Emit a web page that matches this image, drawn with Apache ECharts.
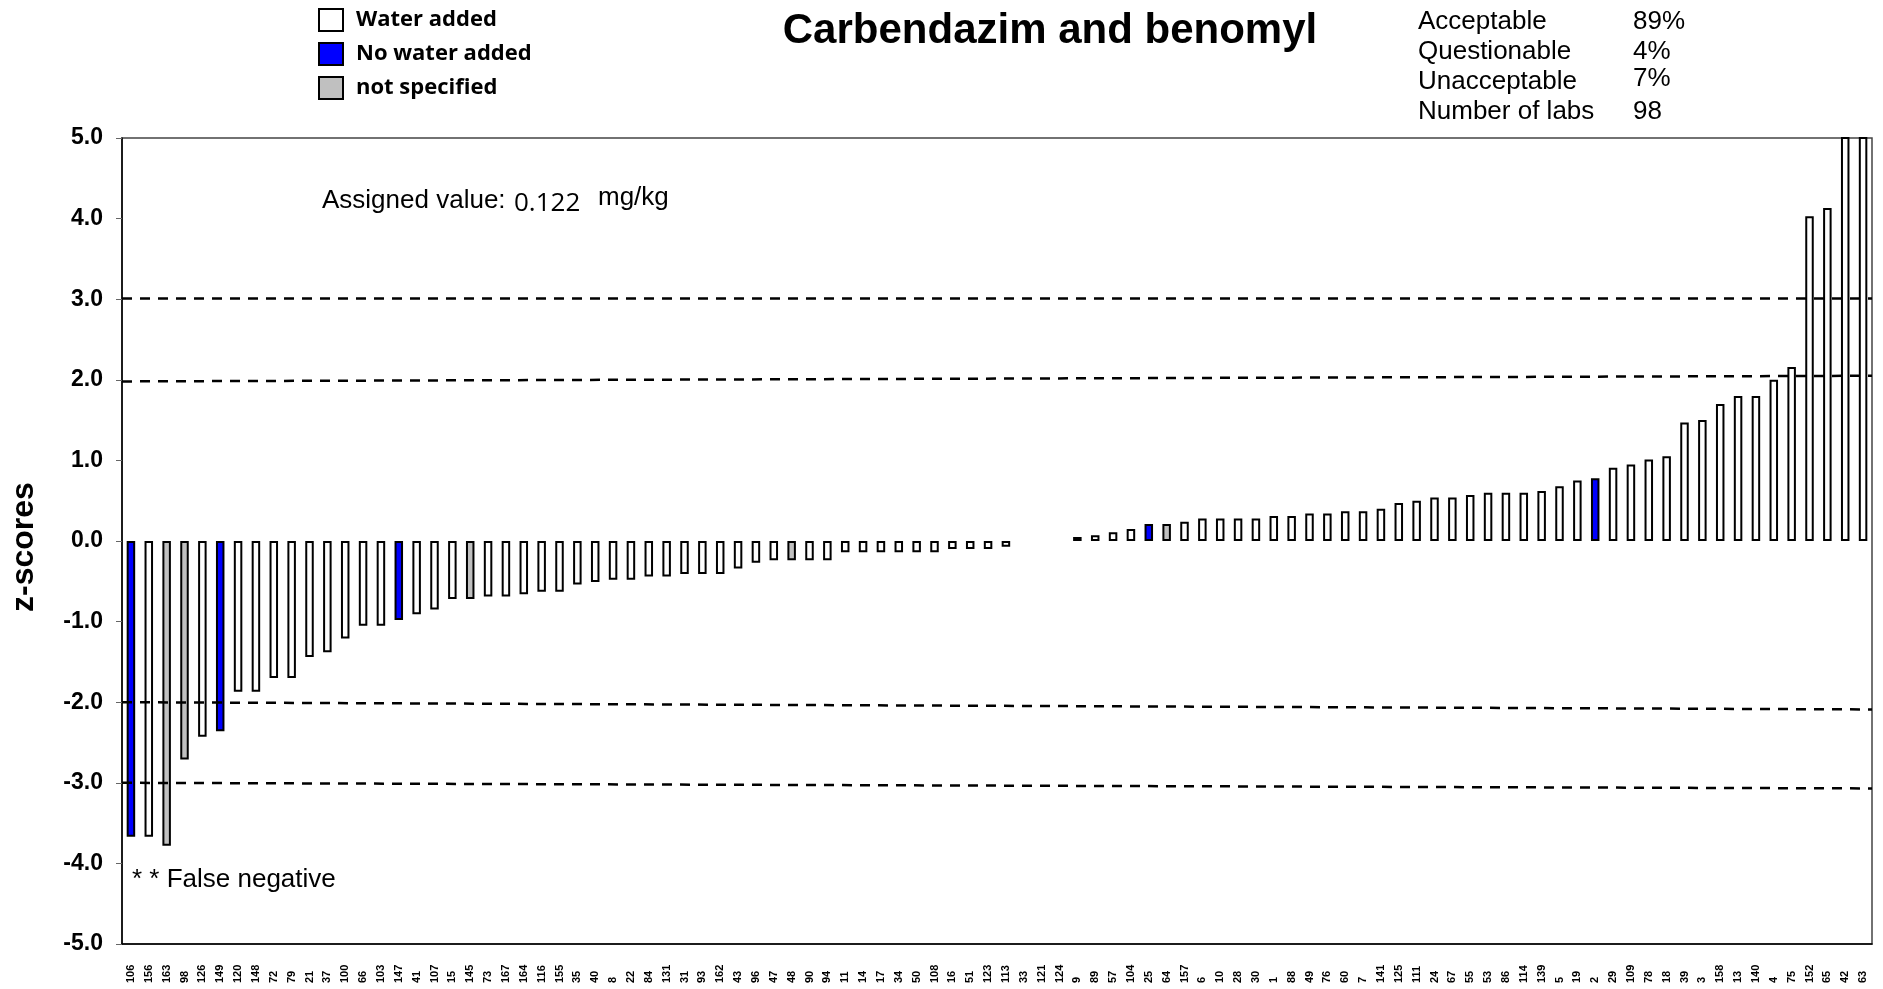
<!DOCTYPE html>
<html>
<head>
<meta charset="utf-8">
<title>Carbendazim and benomyl</title>
<script src="https://cdn.jsdelivr.net/npm/echarts@6/dist/echarts.min.js"></script>
<style>
  html, body { margin: 0; padding: 0; background: #fff; }
  #chart { width: 1883px; height: 989px; }
</style>
</head>
<body>
<div id="chart"></div>
<script>
var myChart = echarts.init(document.getElementById("chart"));//初始化

// lab codes, in plotted order
var labs = ["106","156","163","98","126","149","120","148","72","79","21","37","100","66","103","147","41","107","15","145",
  "73","167","164","116","155","35","40","8","22","84","131","31","93","162","43","96","47","48","90","94",
  "11","14","17","34","50","108","16","51","123","113","33","121","124","9","89","57","104","25","64","157",
  "6","10","28","30","1","88","49","76","60","7","141","125","111","24","67","55","53","86","114","139",
  "5","19","2","29","109","78","18","39","3","158","13","140","4","75","152","65","42","63"];

// z-scores (null = no result reported)
var zScores = [-3.67,-3.67,-3.78,-2.71,-2.43,-2.36,-1.87,-1.87,-1.70,-1.70,-1.44,-1.38,-1.21,-1.05,-1.05,-0.98,-0.91,-0.85,-0.72,-0.72,
  -0.69,-0.69,-0.66,-0.63,-0.63,-0.54,-0.51,-0.48,-0.48,-0.44,-0.44,-0.41,-0.41,-0.41,-0.34,-0.27,-0.24,-0.24,-0.24,-0.24,
  -0.14,-0.14,-0.14,-0.14,-0.14,-0.14,-0.10,-0.10,-0.10,-0.07,null,null,null,0.05,0.07,0.11,0.15,0.21,0.21,0.24,
  0.28,0.28,0.28,0.28,0.31,0.31,0.34,0.34,0.37,0.37,0.40,0.47,0.50,0.54,0.54,0.57,0.60,0.60,0.60,0.62,
  0.68,0.75,0.78,0.91,0.95,1.01,1.05,1.47,1.50,1.70,1.80,1.80,2.00,2.16,4.03,4.13,6.5,7.0];

// W = water added, N = no water added, U = not specified
var waterStatus = ["N","W","U","U","W","N","W","W","W","W","W","W","W","W","W","N","W","W","W","U",
  "W","W","W","W","W","W","W","W","W","W","W","W","W","W","W","W","W","U","W","W",
  "W","W","W","W","W","W","W","W","W","W","W","W","W","U","W","W","W","N","U","W",
  "W","W","W","W","W","W","W","W","W","W","W","W","W","W","W","W","W","W","W","W",
  "W","W","N","W","W","W","W","W","W","W","W","W","W","W","W","W","W","W"];

var statusCodes = ["W", "N", "U"];
var statusNames = ["Water added", "No water added", "not specified"];
var statusColors = ["#ffffff", "#0000ff", "#c0c0c0"];

// dashed limit lines: value at left edge and right edge of the plot
var limitLeft = [1.98, 3.01, -2.0, -3.0];
var limitRight = [2.05, 3.01, -2.09, -3.07];

var statLabels = ["Acceptable", "Questionable", "Unacceptable", "Number of labs"];
var statValues = ["89%", "4%", "7%", "98"];

var series = [];
statusCodes.forEach(function (code, k) {
  series.push({
    name: statusNames[k],
    type: 'bar',
    barWidth: 8.5,
    barGap: '-100%',
    clip: true,
    itemStyle: { color: statusColors[k], borderColor: '#000', borderWidth: 2 },
    data: zScores.map(function (v, i) {
      return (waterStatus[i] === code && v !== null) ? v : '-';
    })
  });
});
limitLeft.forEach(function (v, i) {
  series.push({
    type: 'line',
    xAxisIndex: 1,
    symbol: 'none',
    silent: true,
    z: 5,
    lineStyle: { color: '#000', width: 2.5, type: [10, 8] },
    data: [[0, v], [1, limitRight[i]]]
  });
});

var font = '"Liberation Sans", Arial';
var graphics = [
  { type: 'text', x: 1050, y: 31, style: { text: 'Carbendazim and benomyl', font: 'bold 42px ' + font, fill: '#000', textAlign: 'center', textVerticalAlign: 'middle' } },
  { type: 'text', x: 322, y: 201, style: { text: 'Assigned value:', font: '26px ' + font, fill: '#000', textVerticalAlign: 'middle' } },
  { type: 'text', x: 514, y: 204, style: { text: '0.122', font: '26px "Open Sans"', fill: '#000', textVerticalAlign: 'middle' } },
  { type: 'text', x: 598, y: 198, style: { text: 'mg/kg', font: '26px ' + font, fill: '#000', textVerticalAlign: 'middle' } },
  { type: 'text', x: 132, y: 880, style: { text: '* * False negative', font: '26px ' + font, fill: '#000', textVerticalAlign: 'middle' } },
  { type: 'text', x: 24, y: 547, rotation: Math.PI / 2, style: { text: 'z-scores', font: 'bold 32px ' + font, fill: '#000', textAlign: 'center', textVerticalAlign: 'middle' } }
];
statLabels.forEach(function (s, i) {
  graphics.push({ type: 'text', x: 1418, y: 22 + i * 30, style: { text: s, font: '26px ' + font, fill: '#000', textVerticalAlign: 'middle' } });
  graphics.push({ type: 'text', x: 1633, y: 22 + i * 30 - (i === 2 ? 3 : 0), style: { text: statValues[i], font: '26px ' + font, fill: '#000', textVerticalAlign: 'middle' } });
});

var option = {
  animation: false,
  backgroundColor: '#fff',
  grid: { left: 122, right: 11, top: 138, bottom: 45, show: true, borderColor: '#444', borderWidth: 1.5 },
  legend: {
    data: statusNames,
    orient: 'vertical',
    left: 318,
    top: 8,
    padding: 0,
    itemWidth: 24,
    itemHeight: 22,
    itemGap: 10,
    icon: 'rect',
    selectedMode: false,
    textStyle: { fontFamily: 'Open Sans', fontWeight: 'bold', fontSize: 22, color: '#000', padding: [0, 0, 0, 8] }
  },
  xAxis: [{
    type: 'category',
    data: labs,
    axisLine: { onZero: false, lineStyle: { color: '#000', width: 1.5 } },
    axisTick: { show: false },
    axisLabel: { interval: 0, rotate: 90, align: 'left', verticalAlign: 'middle', margin: 39, fontSize: 11, fontWeight: 'bold', fontFamily: font, color: '#000' }
  }, {
    type: 'value', min: 0, max: 1, show: false
  }],
  yAxis: {
    type: 'value',
    min: -5, max: 5, interval: 1,
    splitLine: { show: false },
    axisLine: { show: true, lineStyle: { color: '#000', width: 1.5 } },
    axisTick: { show: true, length: 6, lineStyle: { color: '#666' } },
    axisLabel: { margin: 19, fontSize: 23, fontWeight: 'bold', fontFamily: font, color: '#000',
      formatter: function (v) { return v.toFixed(1); } }
  },
  graphic: graphics,
  series: series
};
myChart.setOption(option);//绘制
</script>
</body>
</html>
